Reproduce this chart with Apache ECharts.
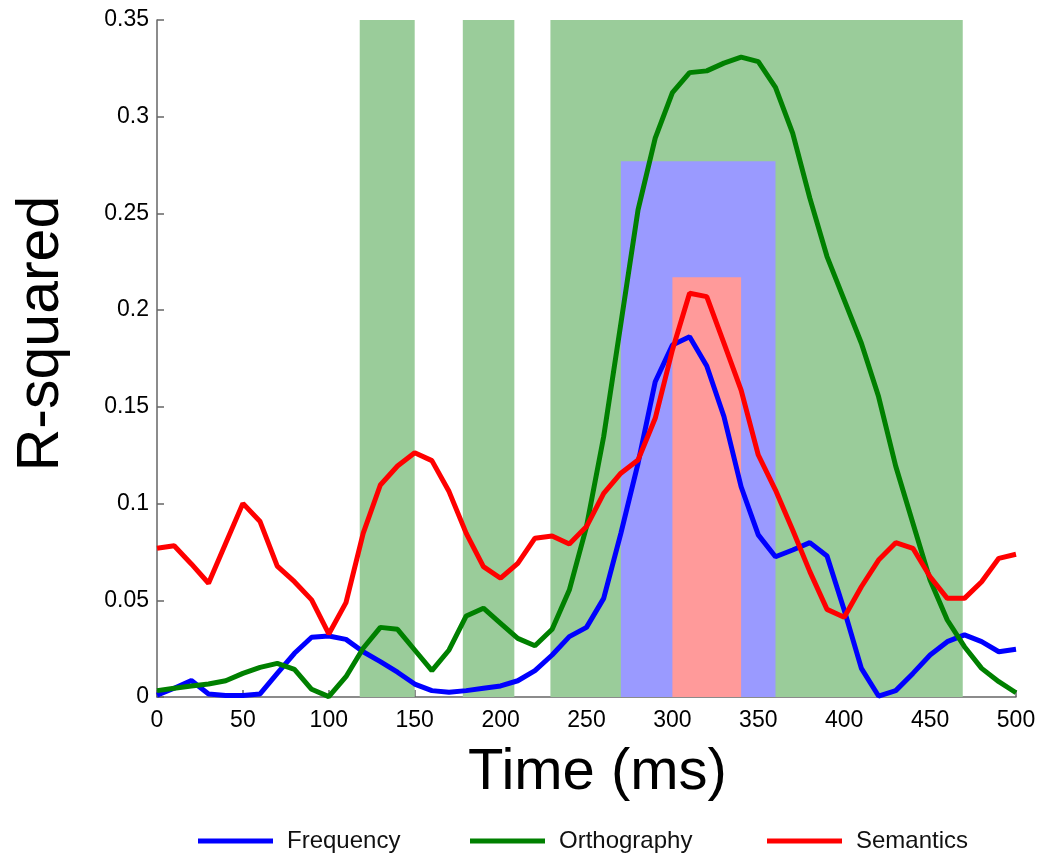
<!DOCTYPE html>
<html>
<head>
<meta charset="utf-8">
<title>R-squared over time</title>
<script src="https://cdn.jsdelivr.net/npm/echarts@6/dist/echarts.min.js"></script>
<style>
  html, body { margin: 0; padding: 0; background: #fff; }
  #main { width: 1046px; height: 857px; }
</style>
</head>
<body>
<div id="main"></div>
<script>
// time points (ms)
var times = [0, 10, 20, 30, 40, 50, 60, 70, 80, 90,
	100, 110, 120, 130, 140, 150, 160, 170, 180, 190,
	200, 210, 220, 230, 240, 250, 260, 270, 280, 290,
	300, 310, 320, 330, 340, 350, 360, 370, 380, 390,
	400, 410, 420, 430, 440, 450, 460, 470, 480, 490, 500];

var frequency = [0.001, 0.0045, 0.0085, 0.0016, 0.0008, 0.0008, 0.0016, 0.0122, 0.0226, 0.0309,
	0.0315, 0.0298, 0.0234, 0.0183, 0.0128, 0.0067, 0.0033, 0.0024, 0.0033, 0.0045,
	0.0057, 0.0084, 0.0136, 0.0217, 0.0312, 0.036, 0.051, 0.0846, 0.1208, 0.163,
	0.182, 0.1863, 0.1711, 0.145, 0.1087, 0.0838, 0.0725, 0.076, 0.0798, 0.0729,
	0.045, 0.0148, 0.0005, 0.0033, 0.0122, 0.0217, 0.0286, 0.0321, 0.0286, 0.0234, 0.0247];

var orthography = [0.0033, 0.0045, 0.0057, 0.0067, 0.0084, 0.0122, 0.0153, 0.0174, 0.0143, 0.004,
	0.0002, 0.0105, 0.0252, 0.036, 0.035, 0.0243, 0.0136, 0.0243, 0.0419, 0.0459,
	0.0381, 0.0303, 0.0265, 0.035, 0.0553, 0.0881, 0.1346, 0.193, 0.2518, 0.2889,
	0.3125, 0.3228, 0.3237, 0.3277, 0.3308, 0.3285, 0.3152, 0.2915, 0.2579, 0.2277,
	0.2053, 0.1829, 0.1553, 0.1193, 0.0898, 0.0605, 0.0398, 0.026, 0.0148, 0.0079, 0.0022];

var semantics = [0.0769, 0.0782, 0.0688, 0.0588, 0.0795, 0.1001, 0.0907, 0.0677, 0.0596, 0.0502,
	0.0326, 0.0488, 0.0846, 0.1096, 0.1194, 0.1263, 0.1222, 0.1062, 0.0846, 0.0674,
	0.0614, 0.0691, 0.0821, 0.0832, 0.0791, 0.0881, 0.1053, 0.1157, 0.1225, 0.1441,
	0.1794, 0.2087, 0.207, 0.1829, 0.1587, 0.1251, 0.107, 0.0863, 0.0648, 0.0453,
	0.0412, 0.057, 0.0708, 0.0798, 0.0769, 0.0622, 0.051, 0.051, 0.0596, 0.0717, 0.0738];

// significant windows [start ms, end ms]
var orthoWindows = [[118, 150], [178, 208], [229, 469]];
var freqWindow = [270, 360];
var freqWindowTop = 0.277;
var semWindow = [300, 340];
var semWindowTop = 0.217;

var yTicks = [0, 0.05, 0.1, 0.15, 0.2, 0.25, 0.3, 0.35];

var FONT = "'Liberation Sans', Arial, Helvetica, sans-serif";

function pairs(vals) {
	return times.map(function (t, i) { return [t, vals[i]]; });
}

function lineSeries(name, color, vals) {
	return {
		name: name,
		type: 'line',
		data: pairs(vals),
		symbol: 'none',
		z: 5,
		lineStyle: { color: color, width: 5 },
		itemStyle: { color: color },
		animation: false
	};
}

function legendAt(name, left) {
	return {
		data: [name],
		left: left,
		top: 824,
		icon: 'rect',
		itemWidth: 75,
		itemHeight: 5,
		textStyle: { fontFamily: FONT, fontSize: 24, color: '#111', padding: [0, 0, 0, 9] }
	};
}

var myChart = echarts.init(document.getElementById('main'));

var option = {
	backgroundColor: '#fff',
	animation: false,
	grid: { left: 157, right: 30, top: 20, bottom: 160 },
	legend: [
		legendAt('Frequency', 193),
		legendAt('Orthography', 465),
		legendAt('Semantics', 762)
	],
	xAxis: {
		type: 'value',
		min: 0,
		max: 500,
		interval: 50,
		name: 'Time (ms)',
		nameLocation: 'middle',
		nameGap: 47,
		nameTextStyle: { fontFamily: FONT, fontSize: 58, color: '#000', padding: [0, 0, 0, 22] },
		axisLine: { lineStyle: { color: '#666', width: 1.5 } },
		axisTick: { inside: true, length: 7, lineStyle: { color: '#666', width: 1.5 } },
		axisLabel: { fontFamily: FONT, fontSize: 23, color: '#000', margin: 12 },
		splitLine: { show: false }
	},
	yAxis: {
		type: 'value',
		min: yTicks[0],
		max: yTicks[yTicks.length - 1],
		interval: 0.05,
		name: 'R-squared',
		nameLocation: 'middle',
		nameGap: 86,
		nameTextStyle: { fontFamily: FONT, fontSize: 59, color: '#000', padding: [0, 0, 0, 50] },
		axisLine: { show: true, lineStyle: { color: '#666', width: 1.5 } },
		axisTick: { show: true, inside: true, length: 7, lineStyle: { color: '#666', width: 1.5 } },
		axisLabel: { fontFamily: FONT, fontSize: 23, color: '#000', margin: 8 },
		splitLine: { show: false }
	},
	series: [
		{
			name: 'orthoWin',
			type: 'line',
			data: [],
			z: 1,
			silent: true,
			markArea: {
				silent: true,
				itemStyle: { color: '#9acc9a', opacity: 1 },
				data: orthoWindows.map(function (w) { return [{ xAxis: w[0] }, { xAxis: w[1] }]; })
			}
		},
		{
			name: 'freqWin',
			type: 'line',
			data: [],
			z: 2,
			silent: true,
			markArea: {
				silent: true,
				itemStyle: { color: '#9a9aff', opacity: 1 },
				data: [[{ xAxis: freqWindow[0], yAxis: 0 }, { xAxis: freqWindow[1], yAxis: freqWindowTop }]]
			}
		},
		{
			name: 'semWin',
			type: 'line',
			data: [],
			z: 3,
			silent: true,
			markArea: {
				silent: true,
				itemStyle: { color: '#ff9a9a', opacity: 1 },
				data: [[{ xAxis: semWindow[0], yAxis: 0 }, { xAxis: semWindow[1], yAxis: semWindowTop }]]
			}
		},
		lineSeries('Frequency', '#0000ff', frequency),
		lineSeries('Orthography', '#008000', orthography),
		lineSeries('Semantics', '#ff0000', semantics)
	]
};

myChart.setOption(option);
</script>
</body>
</html>
